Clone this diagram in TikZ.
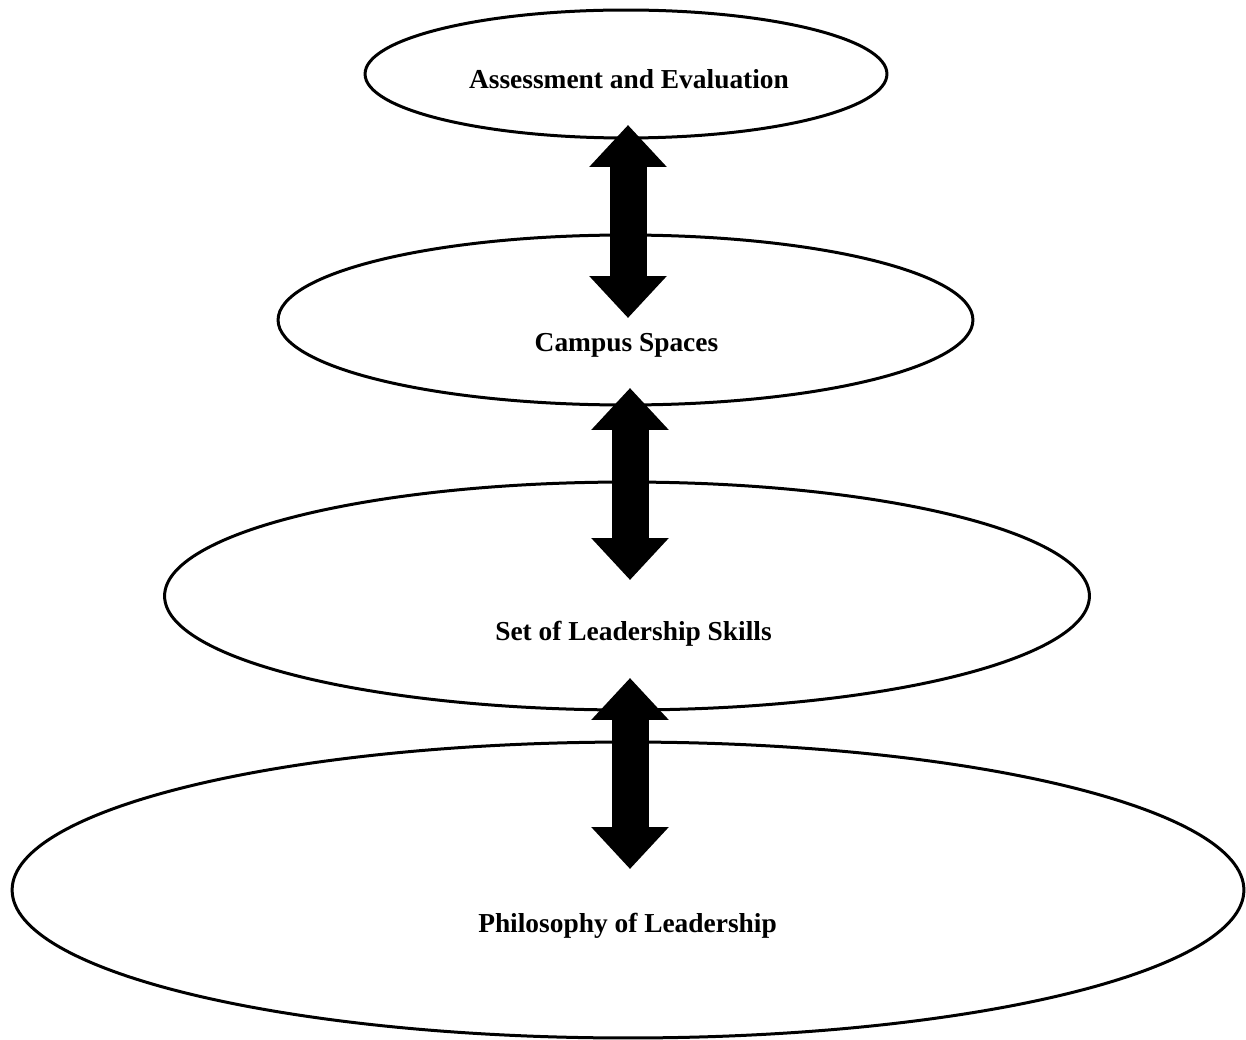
\documentclass[tikz,border=0pt]{standalone}
\usepackage{fontspec}
\setmainfont{Liberation Serif}
\usetikzlibrary{shapes.geometric,arrows.meta}
\tikzset{
  ring/.style={draw=black, line width=0.06cm, ellipse, inner sep=0pt, fill=white},
  lbl/.style={anchor=base, inner sep=0pt, font=\fontsize{15.6}{18}\selectfont\bfseries},
  bigarrow/.style={draw=black, line width=0.74cm,
    {Triangle[length=0.84cm,width=1.5cm]}-{Triangle[length=0.84cm,width=1.5cm]}},
}
\begin{document}
\begin{tikzpicture}[x=0.02cm,y=-0.02cm]
\useasboundingbox (0,0) rectangle (1246,1040);
\node[ring, minimum width=10.44cm, minimum height=2.56cm] (e1) at (626,74) {};
\node[ring, minimum width=13.9cm, minimum height=3.4cm] (e2) at (625.5,320) {};
\node[ring, minimum width=18.5cm, minimum height=4.56cm] (e3) at (627,596) {};
\node[ring, minimum width=24.64cm, minimum height=5.92cm] (e4) at (628,890) {};
\node[lbl] (t1) at (629,89) {Assessment and Evaluation};
\node[lbl] (t2) at (626.5,351) {Campus Spaces};
\node[lbl] (t3) at (633.5,640) {Set of Leadership Skills};
\node[lbl] (t4) at (627.5,932) {Philosophy of Leadership};
\coordinate (a1t) at (628,125);
\coordinate (a1b) at (628,318);
\coordinate (a2t) at (630,388);
\coordinate (a2b) at (630,580);
\coordinate (a3t) at (630,678);
\coordinate (a3b) at (630,869);
\draw[bigarrow] (a1t) -- (a1b);
\draw[bigarrow] (a2t) -- (a2b);
\draw[bigarrow] (a3t) -- (a3b);
\end{tikzpicture}
\end{document}
